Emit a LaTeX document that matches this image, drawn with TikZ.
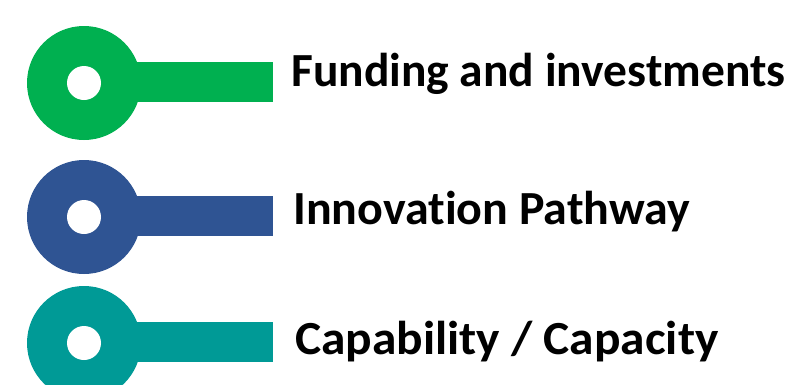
\documentclass[tikz,border=0pt]{standalone}
\usepackage{fontspec}
\usepackage{graphicx}
\setmainfont[Ligatures={NoCommon}]{Carlito}
\definecolor{keygreen}{HTML}{00B050}
\definecolor{keyblue}{HTML}{2F5493}
\definecolor{keyteal}{HTML}{009A96}
\begin{document}
\begin{tikzpicture}[x=1pt,y=-1pt,
    keyring/.style={circle, minimum size=114pt, inner sep=0pt},
    keyhole/.style={circle, fill=white, minimum size=34pt, inner sep=0pt},
    keybar/.style={line width=40pt},
    keylabel/.style={anchor=base west, inner sep=0pt, font=\fontsize{47.5}{52}\selectfont\bfseries}]
    \useasboundingbox (0,0) rectangle (790,384);
    \clip (0,0) rectangle (790,384);

    % funding
    \coordinate (fundend) at (273,82);
    \draw[keybar, keygreen] (84,82) -- (fundend);
    \node[keyring, fill=keygreen] (fundring) at (84,83) {};
    \node[keyhole] (fundhole) at (fundring) {};
    \node[keylabel] (fundtext) at (291,86) {Funding and investments};

    % innovation
    \coordinate (innoend) at (273,216);
    \draw[keybar, keyblue] (84,216) -- (innoend);
    \node[keyring, fill=keyblue] (innoring) at (84,217) {};
    \node[keyhole] (innohole) at (innoring) {};
    \node[keylabel] (innotext) at (293,224) {\scalebox{1.01}[1]{Innovation Pathway}};

    % capability
    \coordinate (capend) at (273,342);
    \draw[keybar, keyteal] (84,342) -- (capend);
    \node[keyring, fill=keyteal] (capring) at (84,343) {};
    \node[keyhole] (caphole) at (capring) {};
    \node[keylabel] (captext) at (295,354) {\scalebox{1.04}[1]{Capability / Capacity}};
\end{tikzpicture}
\end{document}
